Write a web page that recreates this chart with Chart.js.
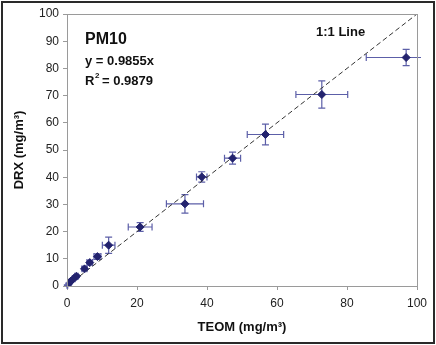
<!DOCTYPE html>
<html>
<head>
<meta charset="utf-8">
<script src="https://cdn.jsdelivr.net/npm/chart.js@4/dist/chart.umd.min.js"></script>
<style>
html,body{margin:0;padding:0;background:#fff;}
#wrap{width:436px;height:345px;position:relative;}
</style>
</head>
<body>
<div id="wrap"><canvas id="c" width="436" height="345"></canvas></div>
<script>
// Data
const teom    = [96.9, 72.8, 56.7, 47.3, 38.5, 33.7, 20.9, 11.9, 8.7, 6.5, 5.0, 2.7, 1.9, 1.0, 0.5, 0.1];
const drx     = [84.0, 70.4, 55.7, 47.0, 40.1, 30.2, 21.7, 15.0, 10.8, 8.6, 6.3, 3.6, 2.7, 1.7, 0.9, 0.3];
const teomErr = [11.4, 7.4, 5.2, 2.3, 1.5, 5.3, 3.4, 1.8, 1.0, 0.8, 0.7, 0.5, 0.4, 0.3, 0.2, 0.1];
const drxErr  = [3.0, 5.0, 3.8, 2.2, 1.9, 3.4, 1.6, 3.0, 1.0, 0.8, 0.7, 0.5, 0.4, 0.3, 0.2, 0.1];
const lineX   = [0, 100];
const lineY   = [0, 100];
const xTicks  = [0, 20, 40, 60, 80, 100];
const yTicks  = [0, 10, 20, 30, 40, 50, 60, 70, 80, 90, 100];
const titleText = "PM10";
const eqText = "y = 0.9855x";
const r2Text = "R";
const r2Value = " = 0.9879";
const lineLabel = "1:1 Line";

const FONT = "'Liberation Sans', Arial, sans-serif";
const markerColor = "#23236e";
const errColor = "#5c5fa8";

const errorBars = {
  id: 'errorBars',
  beforeDatasetsDraw(chart) {
    const ctx = chart.ctx, xs = chart.scales.x, ys = chart.scales.y, a = chart.chartArea;
    ctx.save();
    ctx.beginPath();
    ctx.rect(a.left - 6, a.top - 6, a.right - a.left + 10, a.bottom - a.top + 12);
    ctx.clip();
    ctx.strokeStyle = errColor;
    ctx.lineWidth = 1.2;
    const cap = 3.5;
    for (let i = 0; i < teom.length; i++) {
      const px = xs.getPixelForValue(teom[i]), py = ys.getPixelForValue(drx[i]);
      const x1 = xs.getPixelForValue(teom[i] - teomErr[i]), x2 = xs.getPixelForValue(teom[i] + teomErr[i]);
      const y1 = ys.getPixelForValue(drx[i] - drxErr[i]), y2 = ys.getPixelForValue(drx[i] + drxErr[i]);
      ctx.beginPath();
      ctx.moveTo(x1, py); ctx.lineTo(x2, py);
      ctx.moveTo(x1, py - cap); ctx.lineTo(x1, py + cap);
      ctx.moveTo(x2, py - cap); ctx.lineTo(x2, py + cap);
      ctx.moveTo(px, y1); ctx.lineTo(px, y2);
      ctx.moveTo(px - cap, y1); ctx.lineTo(px + cap, y1);
      ctx.moveTo(px - cap, y2); ctx.lineTo(px + cap, y2);
      ctx.stroke();
    }
    ctx.restore();
  }
};

const frame = {
  id: 'frame',
  afterDraw(chart) {
    const ctx = chart.ctx, a = chart.chartArea;
    ctx.save();
    ctx.strokeStyle = '#9a9a9a';
    ctx.lineWidth = 1;
    ctx.strokeRect(Math.round(a.left) + 0.5, Math.round(a.top) + 0.5, Math.round(a.right - a.left), Math.round(a.bottom - a.top));
    ctx.strokeStyle = '#2a2a2a';
    ctx.lineWidth = 2;
    ctx.strokeRect(2, 2, chart.width - 4, chart.height - 4);
    // annotations
    ctx.fillStyle = '#111';
    ctx.textBaseline = 'alphabetic';
    ctx.textAlign = 'left';
    ctx.font = "bold 16px " + FONT;
    ctx.fillText(titleText, a.left + 18, a.top + 30);
    ctx.font = "bold 13px " + FONT;
    ctx.fillText(eqText, a.left + 18, a.top + 51);
    ctx.fillText(r2Text, a.left + 18, a.top + 71);
    const rw = ctx.measureText(r2Text).width;
    ctx.font = "bold 8px " + FONT;
    ctx.fillText("2", a.left + 18 + rw + 0.5, a.top + 64);
    ctx.font = "bold 13px " + FONT;
    ctx.fillText(r2Value, a.left + 18 + rw + 4, a.top + 71);
    ctx.fillText(lineLabel, a.left + 249, a.top + 22);
    ctx.restore();
  }
};

new Chart(document.getElementById('c'), {
  data: {
    datasets: [
      {
        type: 'line',
        data: lineX.map((v, i) => ({x: v, y: lineY[i]})),
        borderColor: '#333',
        borderWidth: 1,
        borderDash: [5, 3],
        pointRadius: 0,
        fill: false,
        order: 2
      },
      {
        type: 'scatter',
        data: teom.map((v, i) => ({x: v, y: drx[i]})),
        pointStyle: 'rectRot',
        pointRadius: 4,
        backgroundColor: markerColor,
        borderColor: markerColor,
        borderWidth: 1,
        order: 1
      }
    ]
  },
  options: {
    responsive: false,
    animation: false,
    layout: { padding: { left: 12, right: 19, top: 14, bottom: 10 } },
    plugins: { legend: { display: false }, tooltip: { enabled: false } },
    scales: {
      x: {
        type: 'linear', min: 0, max: 100,
        afterBuildTicks(s) { s.ticks = xTicks.map(v => ({value: v})); },
        afterFit(s) { s.height = 49; },
        grid: { drawOnChartArea: false, drawTicks: true, tickLength: 4, color: '#9a9a9a' },
        border: { color: '#9a9a9a' },
        ticks: { color: '#222', font: { family: FONT, size: 12 }, padding: 6, maxRotation: 0 },
        title: { display: true, text: 'TEOM (mg/m³)', color: '#111', font: { family: FONT, size: 13, weight: 'bold' }, padding: { top: 6, bottom: 0 } }
      },
      y: {
        type: 'linear', min: 0, max: 100,
        afterBuildTicks(s) { s.ticks = yTicks.map(v => ({value: v})); },
        afterFit(s) { s.width = 55; },
        grid: { drawOnChartArea: false, drawTicks: true, tickLength: 4, color: '#9a9a9a' },
        border: { color: '#9a9a9a' },
        ticks: { color: '#222', font: { family: FONT, size: 12 }, padding: 4 },
        title: { display: true, text: 'DRX (mg/m³)', color: '#111', font: { family: FONT, size: 13, weight: 'bold' }, padding: { top: 0, bottom: 4 } }
      }
    }
  },
  plugins: [errorBars, frame]
});
</script>
</body>
</html>
